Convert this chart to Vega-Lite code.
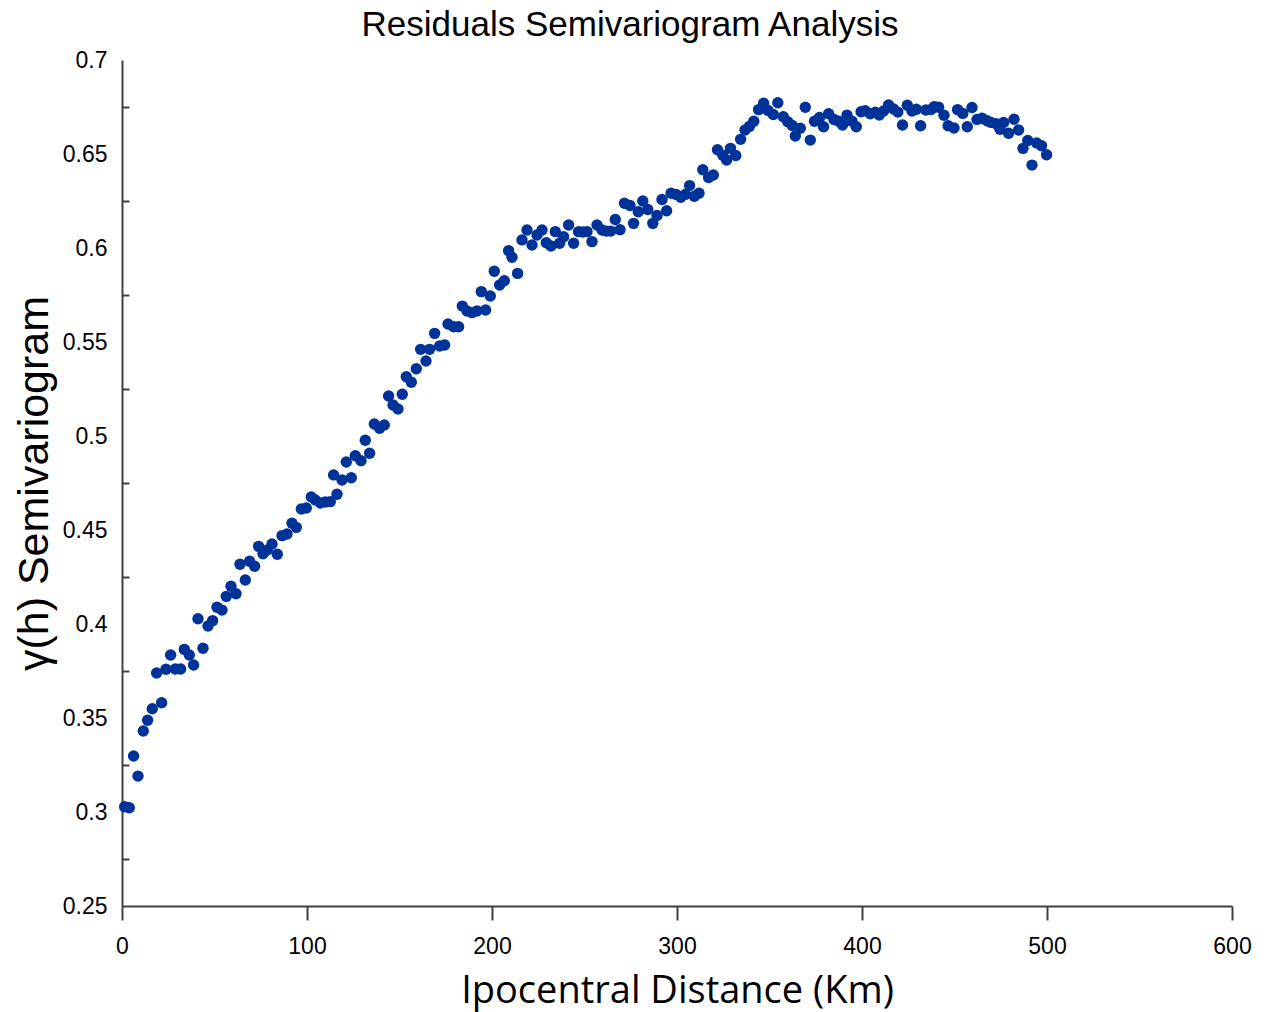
{
  "$schema": "https://vega.github.io/schema/vega-lite/v6.json",
  "width": 1110,
  "height": 846,
  "autosize": {"type": "none"},
  "padding": {"left": 122, "top": 60, "right": 37, "bottom": 106},
  "background": "white",
  "title": {"text": "Residuals Semivariogram Analysis", "font": "Liberation Sans", "fontSize": 35, "fontWeight": "normal", "color": "#000000", "anchor": "middle", "dx": -47, "offset": 6},
  "config": {"view": {"stroke": null}},
  "data": {"values": [
    {"d": 1.41, "g": 0.3028}, {"d": 3.95, "g": 0.3023}, {"d": 6.27, "g": 0.3298}, {"d": 8.65, "g": 0.3191}, {"d": 11.51, "g": 0.3431},
    {"d": 13.84, "g": 0.3488}, {"d": 16.38, "g": 0.3549}, {"d": 18.70, "g": 0.3739}, {"d": 21.41, "g": 0.3581}, {"d": 23.78, "g": 0.3759},
    {"d": 26.27, "g": 0.3835}, {"d": 28.81, "g": 0.3761}, {"d": 31.68, "g": 0.3761}, {"d": 33.68, "g": 0.3865}, {"d": 36.38, "g": 0.3835},
    {"d": 38.70, "g": 0.3782}, {"d": 41.08, "g": 0.4028}, {"d": 43.78, "g": 0.3871}, {"d": 46.49, "g": 0.3989}, {"d": 48.97, "g": 0.4018},
    {"d": 51.35, "g": 0.4089}, {"d": 54.05, "g": 0.4074}, {"d": 56.38, "g": 0.4147}, {"d": 58.92, "g": 0.4201}, {"d": 61.62, "g": 0.4161},
    {"d": 63.78, "g": 0.4318}, {"d": 66.65, "g": 0.4234}, {"d": 68.97, "g": 0.4334}, {"d": 71.68, "g": 0.4307}, {"d": 73.84, "g": 0.4413},
    {"d": 76.22, "g": 0.4374}, {"d": 78.54, "g": 0.4394}, {"d": 81.08, "g": 0.4426}, {"d": 83.95, "g": 0.4371}, {"d": 86.49, "g": 0.4470},
    {"d": 89.19, "g": 0.4479}, {"d": 91.89, "g": 0.4536}, {"d": 94.22, "g": 0.4514}, {"d": 96.92, "g": 0.4612}, {"d": 99.62, "g": 0.4617},
    {"d": 102.32, "g": 0.4676}, {"d": 104.49, "g": 0.4660}, {"d": 107.19, "g": 0.4644}, {"d": 109.89, "g": 0.4649}, {"d": 112.59, "g": 0.4651},
    {"d": 114.38, "g": 0.4793}, {"d": 116.22, "g": 0.4690}, {"d": 118.92, "g": 0.4766}, {"d": 121.24, "g": 0.4862}, {"d": 123.95, "g": 0.4778},
    {"d": 126.11, "g": 0.4895}, {"d": 129.19, "g": 0.4869}, {"d": 131.51, "g": 0.4977}, {"d": 133.84, "g": 0.4908}, {"d": 136.38, "g": 0.5064},
    {"d": 139.24, "g": 0.5041}, {"d": 141.78, "g": 0.5059}, {"d": 144.11, "g": 0.5213}, {"d": 146.49, "g": 0.5165}, {"d": 149.19, "g": 0.5144},
    {"d": 151.51, "g": 0.5222}, {"d": 153.68, "g": 0.5315}, {"d": 156.38, "g": 0.5286}, {"d": 159.08, "g": 0.5358}, {"d": 161.41, "g": 0.5461},
    {"d": 164.32, "g": 0.5399}, {"d": 166.27, "g": 0.5461}, {"d": 168.97, "g": 0.5546}, {"d": 171.68, "g": 0.5479}, {"d": 174.38, "g": 0.5484},
    {"d": 176.22, "g": 0.5596}, {"d": 179.24, "g": 0.5581}, {"d": 181.95, "g": 0.5581}, {"d": 183.95, "g": 0.5691}, {"d": 186.49, "g": 0.5665},
    {"d": 189.19, "g": 0.5656}, {"d": 191.89, "g": 0.5665}, {"d": 194.22, "g": 0.5768}, {"d": 196.54, "g": 0.5670}, {"d": 199.08, "g": 0.5745},
    {"d": 201.24, "g": 0.5876}, {"d": 204.11, "g": 0.5803}, {"d": 206.65, "g": 0.5826}, {"d": 208.97, "g": 0.5986}, {"d": 210.81, "g": 0.5951},
    {"d": 213.84, "g": 0.5865}, {"d": 216.22, "g": 0.6043}, {"d": 218.92, "g": 0.6096}, {"d": 221.62, "g": 0.6016}, {"d": 224.32, "g": 0.6069},
    {"d": 227.03, "g": 0.6096}, {"d": 229.35, "g": 0.6028}, {"d": 231.89, "g": 0.6011}, {"d": 234.22, "g": 0.6087}, {"d": 236.54, "g": 0.6025},
    {"d": 238.70, "g": 0.6060}, {"d": 241.41, "g": 0.6122}, {"d": 244.11, "g": 0.6025}, {"d": 246.81, "g": 0.6087}, {"d": 249.08, "g": 0.6085},
    {"d": 251.35, "g": 0.6087}, {"d": 254.05, "g": 0.6034}, {"d": 256.76, "g": 0.6122}, {"d": 259.46, "g": 0.6096}, {"d": 261.78, "g": 0.6090},
    {"d": 264.22, "g": 0.6090}, {"d": 266.65, "g": 0.6152}, {"d": 269.19, "g": 0.6097}, {"d": 271.62, "g": 0.6238}, {"d": 274.59, "g": 0.6226},
    {"d": 276.54, "g": 0.6131}, {"d": 279.08, "g": 0.6193}, {"d": 281.51, "g": 0.6250}, {"d": 284.22, "g": 0.6205}, {"d": 286.92, "g": 0.6131},
    {"d": 289.19, "g": 0.6173}, {"d": 291.89, "g": 0.6258}, {"d": 294.38, "g": 0.6198}, {"d": 296.81, "g": 0.6291}, {"d": 299.51, "g": 0.6285},
    {"d": 302.05, "g": 0.6270}, {"d": 304.49, "g": 0.6285}, {"d": 306.81, "g": 0.6332}, {"d": 309.35, "g": 0.6275}, {"d": 311.89, "g": 0.6291},
    {"d": 313.95, "g": 0.6416}, {"d": 317.08, "g": 0.6375}, {"d": 319.62, "g": 0.6388}, {"d": 321.89, "g": 0.6523}, {"d": 324.76, "g": 0.6493},
    {"d": 326.81, "g": 0.6468}, {"d": 328.92, "g": 0.6530}, {"d": 331.78, "g": 0.6492}, {"d": 334.38, "g": 0.6578}, {"d": 336.76, "g": 0.6628},
    {"d": 339.19, "g": 0.6647}, {"d": 341.51, "g": 0.6674}, {"d": 344.11, "g": 0.6736}, {"d": 346.81, "g": 0.6770}, {"d": 349.24, "g": 0.6731},
    {"d": 352.05, "g": 0.6710}, {"d": 354.49, "g": 0.6773}, {"d": 357.46, "g": 0.6698}, {"d": 359.89, "g": 0.6672}, {"d": 362.32, "g": 0.6652},
    {"d": 363.95, "g": 0.6596}, {"d": 366.65, "g": 0.6637}, {"d": 369.35, "g": 0.6749}, {"d": 372.05, "g": 0.6574}, {"d": 374.32, "g": 0.6674},
    {"d": 377.03, "g": 0.6694}, {"d": 379.24, "g": 0.6645}, {"d": 381.95, "g": 0.6714}, {"d": 384.86, "g": 0.6684}, {"d": 387.35, "g": 0.6674},
    {"d": 389.46, "g": 0.6654}, {"d": 391.89, "g": 0.6707}, {"d": 394.59, "g": 0.6674}, {"d": 396.92, "g": 0.6645}, {"d": 399.51, "g": 0.6725},
    {"d": 401.78, "g": 0.6730}, {"d": 404.49, "g": 0.6714}, {"d": 407.19, "g": 0.6722}, {"d": 409.35, "g": 0.6707}, {"d": 411.68, "g": 0.6729},
    {"d": 414.38, "g": 0.6761}, {"d": 417.08, "g": 0.6739}, {"d": 419.35, "g": 0.6723}, {"d": 421.89, "g": 0.6654}, {"d": 424.49, "g": 0.6759},
    {"d": 427.03, "g": 0.6729}, {"d": 429.35, "g": 0.6738}, {"d": 431.68, "g": 0.6650}, {"d": 434.49, "g": 0.6734}, {"d": 437.35, "g": 0.6737},
    {"d": 439.08, "g": 0.6752}, {"d": 441.41, "g": 0.6749}, {"d": 444.32, "g": 0.6706}, {"d": 446.54, "g": 0.6650}, {"d": 449.73, "g": 0.6638},
    {"d": 451.68, "g": 0.6736}, {"d": 454.49, "g": 0.6716}, {"d": 456.92, "g": 0.6645}, {"d": 459.46, "g": 0.6747}, {"d": 462.16, "g": 0.6684},
    {"d": 464.86, "g": 0.6690}, {"d": 467.57, "g": 0.6677}, {"d": 469.78, "g": 0.6668}, {"d": 472.49, "g": 0.6661}, {"d": 474.59, "g": 0.6632},
    {"d": 476.54, "g": 0.6668}, {"d": 479.24, "g": 0.6610}, {"d": 482.16, "g": 0.6685}, {"d": 484.65, "g": 0.6628}, {"d": 487.03, "g": 0.6530},
    {"d": 489.62, "g": 0.6572}, {"d": 491.89, "g": 0.6441}, {"d": 494.38, "g": 0.6559}, {"d": 497.03, "g": 0.6544}, {"d": 499.78, "g": 0.6496}
  ]},
  "mark": {"type": "circle", "size": 130, "color": "#003399", "opacity": 1},
  "encoding": {
    "x": {
      "field": "d", "type": "quantitative",
      "scale": {"domain": [0, 600], "nice": false, "zero": false},
      "axis": {
        "title": "Ipocentral Distance (Km)",
        "values": [0, 100, 200, 300, 400, 500, 600],
        "format": "d", "grid": false, "labelFlush": false, "labelOverlap": false,
        "domainColor": "#404040", "domainWidth": 2,
        "tickColor": "#404040", "tickWidth": 2, "tickSize": 14,
        "labelFont": "Liberation Sans", "labelFontSize": 23, "labelColor": "#000000", "labelPadding": 15,
        "titleFont": "Open Sans", "titleFontSize": 38, "titleFontWeight": "normal", "titleColor": "#000000",
        "titleBaseline": "alphabetic", "titleY": 96
      }
    },
    "y": {
      "field": "g", "type": "quantitative",
      "scale": {"domain": [0.25, 0.7], "nice": false, "zero": false},
      "axis": {
        "title": "γ(h) Semivariogram",
        "values": [0.25, 0.275, 0.3, 0.325, 0.35, 0.375, 0.4, 0.425, 0.45, 0.475, 0.5, 0.525, 0.55, 0.575, 0.6, 0.625, 0.65, 0.675, 0.7],
        "labelExpr": "round(datum.value * 1000) % 50 == 0 ? format(datum.value, '~g') : ''",
        "grid": false, "labelFlush": false, "labelOverlap": false,
        "domainColor": "#404040", "domainWidth": 2,
        "tickColor": "#404040", "tickWidth": 2, "tickSize": -7,
        "tickOpacity": {"condition": {"test": "round(datum.value * 1000) % 50 == 0", "value": 0}, "value": 1},
        "labelFont": "Liberation Sans", "labelFontSize": 23, "labelColor": "#000000", "labelPadding": 22,
        "titleFont": "Liberation Sans", "titleFontSize": 43, "titleFontWeight": "normal", "titleColor": "#000000",
        "titleAngle": -90, "titleBaseline": "alphabetic", "titleX": -75, "titleY": 423
      }
    }
  }
}
